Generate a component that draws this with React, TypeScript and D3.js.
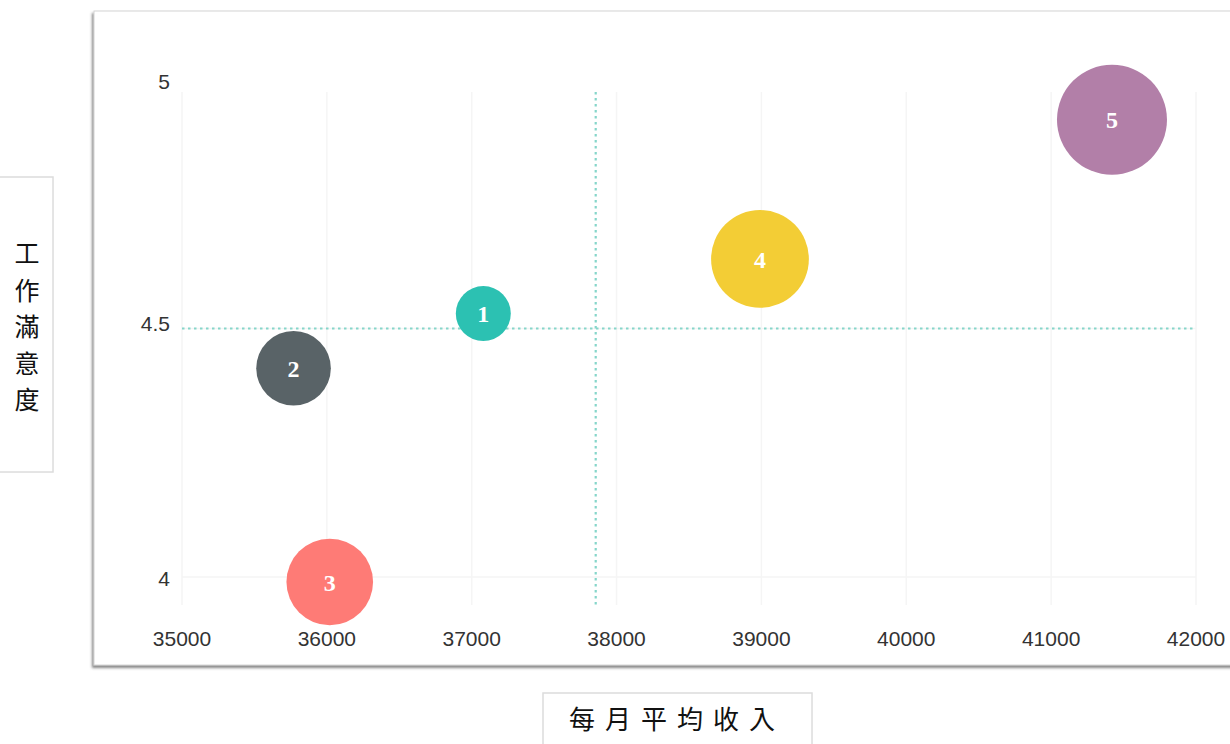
import React from "react";
import * as d3 from "d3";

const ids = ["1", "2", "3", "4", "5"];
const income = [37080, 35770, 36020, 38990, 41420];
const satisfaction = [4.53, 4.42, 3.99, 4.64, 4.92];
const weight = [25, 46, 62, 79, 100];
const colors = ["#2cc1b2", "#596367", "#fe7b76", "#f3cd35", "#b27fa8"];
const xTicks = [35000, 36000, 37000, 38000, 39000, 40000, 41000, 42000];
const yTicks = [4, 4.5, 5];
const xTitle = "每月平均收入";
const yTitle = ["工", "作", "滿", "意", "度"];

export default function App() {
  const W = 1230, H = 744;
  const x = d3.scaleLinear().domain([35000, 42000]).range([182, 1196]);
  const y = d3.scaleLinear().domain([4, 5]).range([577, 80]);
  const r = d3.scaleSqrt().domain([0, 100]).range([0, 55]);
  const plotTop = 92, plotBottom = 605;
  const mx = d3.mean(income) as number;
  const my = d3.mean(satisfaction) as number;
  const tickFont = "'Liberation Sans', Arial, sans-serif";
  const data = ids.map((id, i) => ({ id, x: income[i], y: satisfaction[i], w: weight[i], c: colors[i] }));
  const order = d3.range(data.length);

  return (
    <svg width={W} height={H} style={{ position: "absolute", left: 0, top: 0, background: "#fff" }}>
      <defs>
        <filter id="sh" x="-5%" y="-5%" width="110%" height="110%">
          <feDropShadow dx="-1.5" dy="2.5" stdDeviation="1.2" floodColor="#555" floodOpacity="0.7" />
        </filter>
      </defs>
      <rect x={0} y={0} width={W} height={H} fill="#fff" />
      <rect x={94} y={11} width={1150} height={654} fill="#fff" stroke="#d4d4d4" strokeWidth={1} filter="url(#sh)" />
      {xTicks.map((t) => (
        <line key={"gx" + t} x1={x(t)} x2={x(t)} y1={plotTop} y2={plotBottom} stroke="#f5f5f5" strokeWidth={1.5} />
      ))}
      {yTicks.filter((t) => y(t) >= plotTop && y(t) <= plotBottom).map((t) => (
        <line key={"gy" + t} x1={x(35000)} x2={x(42000)} y1={y(t)} y2={y(t)} stroke="#f5f5f5" strokeWidth={1.5} />
      ))}
      <line x1={x(35000)} x2={x(42000)} y1={y(my)} y2={y(my)} stroke="#86d6ca" strokeWidth={2.2} strokeDasharray="2.5,3.5" />
      <line x1={x(mx)} x2={x(mx)} y1={plotTop} y2={plotBottom} stroke="#86d6ca" strokeWidth={2.2} strokeDasharray="2.5,3.5" />
      {xTicks.map((t) => (
        <text key={"tx" + t} x={x(t)} y={646} textAnchor="middle" fontFamily={tickFont} fontSize={21} fill="#333">
          {t}
        </text>
      ))}
      {yTicks.map((t) => (
        <text key={"ty" + t} x={170} y={y(t) + (t === 4.5 ? -5 : 2)} dy="0.35em" textAnchor="end" fontFamily={tickFont} fontSize={21} fill="#333">
          {t}
        </text>
      ))}
      {order.map((i) => {
        const d = data[i];
        return (
          <g key={"b" + d.id}>
            <circle cx={x(d.x)} cy={y(d.y)} r={r(d.w)} fill={d.c} />
            <text x={x(d.x)} y={y(d.y)} dy="0.36em" textAnchor="middle" fontFamily="'Liberation Serif', 'DejaVu Serif', serif" fontWeight="bold" fontSize={24} fill="#fff">
              {d.id}
            </text>
          </g>
        );
      })}
      <rect x={-2} y={177} width={55} height={295} fill="#fff" stroke="#dcdcdc" strokeWidth={1.5} />
      {yTitle.map((ch, i) => (
        <text key={"yt" + i} x={27} y={254 + i * 36.5} dy="0.36em" textAnchor="middle" fontFamily="'Noto Sans CJK TC', sans-serif" fontSize={25} fill="#111">
          {ch}
        </text>
      ))}
      <rect x={543} y={693} width={269} height={60} fill="#fff" stroke="#dcdcdc" strokeWidth={1.5} />
      <text x={677} y={720} dy="0.36em" textAnchor="middle" fontFamily="'Noto Sans CJK TC', sans-serif" fontSize={26} letterSpacing={10} fill="#111">
        {xTitle}
      </text>
    </svg>
  );
}
